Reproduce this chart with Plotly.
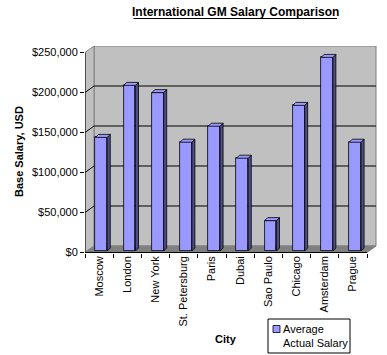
import plotly.graph_objects as go

# ---- data ----
cities = ["Moscow", "London", "New York", "St. Petersburg", "Paris",
          "Dubai", "Sao Paulo", "Chicago", "Amsterdam", "Prague"]
salary = [142000, 207000, 198000, 136000, 156000,
          116000, 38000, 182000, 242000, 136000]
y_ticks = [0, 50000, 100000, 150000, 200000, 250000]
series_name = "Average<br>Actual Salary"

# ---- geometry (pixels -> axis units) ----
W, H = 387, 355
L, R, T, B = 85, 10, 46, 102
pw, ph = W - L - R, H - T - B
PX_CAT = 28.2
UNITS_PX = 1250.0
x_range = [-0.5, -0.5 + pw / PX_CAT]
y_range = [-0.5 * UNITS_PX, -0.5 * UNITS_PX + ph * UNITS_PX]
dxu = 9 / PX_CAT          # wall depth
dyu = 6.5 * UNITS_PX
bdx = 3 / PX_CAT          # bar depth
bdy = 3 * UNITS_PX
OFF, BW = -0.128, 0.418   # bar front face offset/width
BASE = 1.5 * UNITS_PX
n = len(cities)
ymax = y_ticks[-1]

FRONT = "#9999FF"
SIDE = "#4D4D88"
WALL = "#C0C0C0"
FLOOR = "#808080"
FONT = "Liberation Sans, Arial, sans-serif"

fig = go.Figure()

fig.add_trace(go.Bar(
    x=cities, y=salary, base=BASE, offset=OFF, width=BW,
    marker=dict(color=FRONT, line=dict(color="black", width=0.8)),
    showlegend=False, hoverinfo="x+y"))

# side and top faces
sx, sy, tx, ty = [], [], [], []
for i, v in enumerate(salary):
    xl = i + OFF
    xr = xl + BW
    top = BASE + v
    sx += [xr, xr, xr + bdx, xr + bdx, xr, None]
    sy += [BASE, top, top + bdy, BASE + bdy, BASE, None]
    tx += [xl, xr, xr + bdx, xl + bdx, xl, None]
    ty += [top, top, top + bdy, top + bdy, top, None]
fig.add_trace(go.Scatter(x=sx, y=sy, xaxis="x2", yaxis="y", mode="lines",
                         fill="toself", fillcolor=SIDE,
                         line=dict(color="black", width=0.8),
                         showlegend=False, hoverinfo="skip"))
fig.add_trace(go.Scatter(x=tx, y=ty, xaxis="x2", yaxis="y", mode="lines",
                         fill="toself", fillcolor=FRONT,
                         line=dict(color="black", width=0.8),
                         showlegend=False, hoverinfo="skip"))

shapes = []
x0 = -0.5
x1 = n - 0.5
# back wall
shapes.append(dict(type="rect", xref="x2", yref="y", x0=x0 + dxu, x1=x1 + dxu,
                   y0=dyu, y1=ymax + dyu, fillcolor=WALL,
                   line=dict(color="#808080", width=1), layer="below"))
# left wall
shapes.append(dict(type="path", xref="x2", yref="y",
                   path=f"M{x0},0 L{x0},{ymax} L{x0+dxu},{ymax+dyu} L{x0+dxu},{dyu} Z",
                   fillcolor=WALL, line=dict(color="#808080", width=1), layer="below"))
# floor
shapes.append(dict(type="path", xref="x2", yref="y",
                   path=f"M{x0},0 L{x1},0 L{x1+dxu},{dyu} L{x0+dxu},{dyu} Z",
                   fillcolor=FLOOR, line=dict(color="#808080", width=1), layer="below"))
# gridlines
for v in y_ticks[1:-1]:
    shapes.append(dict(type="path", xref="x2", yref="y",
                       path=f"M{x0},{v} L{x0+dxu},{v+dyu} L{x1+dxu},{v+dyu}",
                       line=dict(color="black", width=1), layer="below"))
# front axis lines
shapes.append(dict(type="line", xref="x2", yref="y", x0=x0, x1=x0, y0=0, y1=ymax,
                   line=dict(color="black", width=1)))
shapes.append(dict(type="line", xref="x2", yref="y", x0=x0, x1=x1, y0=0, y1=0,
                   line=dict(color="black", width=1)))

# custom legend
def px(x):
    return (x - L) / pw
def py(y):
    return (H - B - y) / ph
shapes.append(dict(type="rect", xref="paper", yref="paper",
                   x0=px(268), x1=px(350), y0=py(319), y1=py(353),
                   fillcolor="white", line=dict(color="black", width=1)))
shapes.append(dict(type="rect", xref="paper", yref="paper",
                   x0=px(273), x1=px(280), y0=py(325.5), y1=py(332.5),
                   fillcolor=FRONT, line=dict(color="black", width=0.8)))
# title underline
shapes.append(dict(type="line", xref="paper", yref="paper",
                   x0=px(133.5), x1=px(337), y0=py(18.5), y1=py(18.5),
                   line=dict(color="black", width=1)))

annotations = [
    dict(text='<b>International GM Salary Comparison</b>',
         xref="paper", yref="paper", x=px(235), y=py(12), showarrow=False,
         xanchor="center", yanchor="middle", font=dict(size=12, family=FONT, color="black")),
    dict(text="<b>Base Salary, USD</b>", xref="paper", yref="paper",
         x=px(19), y=py(152), textangle=-90, showarrow=False,
         xanchor="center", yanchor="middle", font=dict(size=11, family=FONT, color="black")),
    dict(text="<b>City</b>", xref="paper", yref="paper",
         x=px(226), y=py(339), showarrow=False,
         xanchor="center", yanchor="middle", font=dict(size=11, family=FONT, color="black")),
    dict(text=series_name, xref="paper", yref="paper",
         x=px(281), y=py(336.2), showarrow=False, align="left",
         xanchor="left", yanchor="middle", font=dict(size=11, family=FONT, color="black")),
]

fig.update_layout(
    width=W, height=H,
    margin=dict(l=L, r=R, t=T, b=B, pad=0),
    paper_bgcolor="white", plot_bgcolor="white",
    showlegend=False, bargap=0,
    font=dict(family=FONT, size=11, color="black"),
    xaxis=dict(type="category", range=x_range, tickangle=-90, tickson="boundaries",
               ticks="outside", ticklen=4, tickcolor="black", showgrid=False,
               showline=False, zeroline=False, tickfont=dict(size=11)),
    xaxis2=dict(overlaying="x", range=x_range, visible=False, type="linear"),
    yaxis=dict(range=y_range, tickvals=y_ticks, tickformat="$,.0f", ticks="outside",
               ticklen=4, tickcolor="black", showgrid=False, zeroline=False,
               showline=False, tickfont=dict(size=11)),
    shapes=shapes, annotations=annotations,
)

fig.write_html("out.html", config={"displayModeBar": False},
               post_script="document.body.style.margin='0px';document.body.style.overflow='hidden';")
